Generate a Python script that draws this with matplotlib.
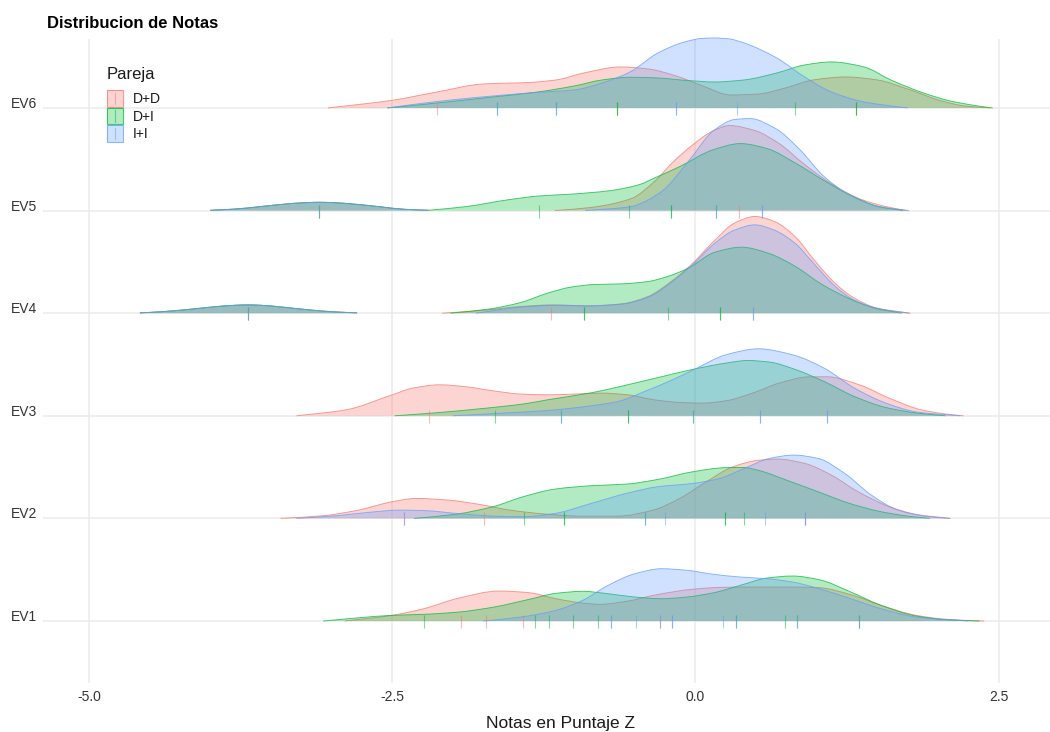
import numpy as np
import matplotlib
matplotlib.use("Agg")
import matplotlib.pyplot as plt
from matplotlib.path import Path
from matplotlib.patches import PathPatch, Rectangle
from matplotlib.lines import Line2D

plt.rcParams['font.family'] = ['Liberation Sans', 'DejaVu Sans']

# ---------------- data ----------------
rows = ['EV1', 'EV2', 'EV3', 'EV4', 'EV5', 'EV6']
groups = ['D+D', 'D+I', 'I+I']
group_colors = ['#F8766D', '#00BA38', '#619CFF']
x_ticks = [-5.0, -2.5, 0.0, 2.5]
x_tick_labels = ['-5.0', '-2.5', '0.0', '2.5']

# density heights (ridge height units)
ev6_dd_x = [-3.03, -2.5, -2.13, -1.75, -1.37, -1.15, -0.92, -0.62, -0.39, -0.16, 0.06, 0.29, 0.52, 0.74, 0.97, 1.24, 1.5, 1.77, 2.03, 2.22, 2.43]
ev6_dd_h = [0, 7.7, 16, 24, 25.5, 28, 35, 41, 39, 32, 22, 13, 14, 20, 28, 31, 28, 18, 7, 2, 0]
ev6_di_x = [-2.54, -2.13, -1.67, -1.3, -1.0, -0.77, -0.54, -0.31, -0.09, 0.16, 0.4, 0.67, 0.9, 1.12, 1.39, 1.61, 1.88, 2.1, 2.33, 2.45]
ev6_di_h = [0, 5, 11, 16, 22, 28, 30.7, 30, 27.7, 26, 28, 35, 43, 46, 41, 28, 15, 7, 2, 0]
ev6_ii_x = [-2.54, -2.13, -1.67, -1.3, -1.0, -0.77, -0.54, -0.31, -0.09, 0.05, 0.16, 0.28, 0.4, 0.67, 0.9, 1.12, 1.39, 1.61, 1.75]
ev6_ii_h = [0, 6.5, 12, 15.6, 18, 25, 36, 55, 66, 69.5, 70, 69, 65, 50, 31, 16, 6, 2, 0]

ev5_bump_x = [-4.0, -3.8, -3.6, -3.4, -3.2, -3.1, -3.0, -2.8, -2.6, -2.4, -2.2]
ev5_bump_h = [0.3, 1.5, 3.8, 6.3, 8.0, 8.3, 8.0, 6.3, 3.8, 1.3, 0.3]
ev5_dd_x = [-1.16, -0.87, -0.53, -0.33, -0.19, -0.02, 0.15, 0.28, 0.49, 0.69, 0.89, 1.13, 1.37, 1.57, 1.74]
ev5_dd_h = [0, 3, 12, 30, 48, 66, 80, 85, 80, 67, 47, 26, 11, 4, 0]
ev5_di_x = [-2.2, -1.89, -1.55, -1.28, -1.04, -0.7, -0.47, -0.33, -0.13, 0.15, 0.37, 0.59, 0.83, 1.06, 1.27, 1.51, 1.71]
ev5_di_h = [0.3, 4, 10.7, 14.7, 16.3, 20, 25.7, 33, 44, 61, 67, 62, 47, 30, 15.7, 4, 0]
ev5_ii_x = [-0.91, -0.53, -0.4, -0.26, -0.06, 0.15, 0.32, 0.45, 0.66, 0.86, 1.06, 1.27, 1.51, 1.76]
ev5_ii_h = [0, 4, 10, 21, 49, 80, 91, 92, 82, 61, 34, 15.7, 4, 0]

ev4_bump_x = [-4.58, -4.4, -4.2, -4.0, -3.8, -3.69, -3.58, -3.4, -3.2, -3.0, -2.79]
ev4_bump_h = [0.3, 1.5, 3.5, 6, 7.9, 8.3, 7.9, 6, 3.5, 1.5, 0.3]
ev4_dd_x = [-2.09, -1.71, -1.44, -1.17, -0.89, -0.61, -0.39, -0.2, -0.04, 0.16, 0.32, 0.49, 0.65, 0.82, 0.98, 1.15, 1.31, 1.5, 1.77]
ev4_dd_h = [0, 3.3, 6.7, 8.3, 7.3, 9.3, 16.7, 31.7, 48, 73, 90, 96.7, 91.7, 76.7, 53, 30, 15, 5, 0]
ev4_di_x = [-2.02, -1.71, -1.44, -1.22, -1.03, -0.83, -0.61, -0.39, -0.23, -0.06, 0.16, 0.38, 0.6, 0.82, 1.04, 1.26, 1.48, 1.7]
ev4_di_h = [0, 4, 10.7, 20, 26, 28.7, 29.3, 31.7, 36.7, 45, 61, 66, 60, 47, 29, 15, 5, 0]
ev4_ii_x = [-1.81, -1.44, -1.17, -0.89, -0.61, -0.39, -0.2, -0.04, 0.16, 0.32, 0.49, 0.65, 0.82, 0.98, 1.15, 1.31, 1.5, 1.76]
ev4_ii_h = [0, 6, 7.7, 7.3, 9, 16, 30.7, 46.7, 70, 83, 88.3, 83, 70, 49, 27, 13, 4.7, 0]

ev3_dd_x = [-3.29, -2.88, -2.5, -2.33, -2.11, -1.89, -1.67, -1.44, -1.22, -1.0, -0.78, -0.56, -0.34, -0.12, 0.06, 0.25, 0.47, 0.69, 0.94, 1.09, 1.35, 1.61, 1.86, 2.05, 2.21]
ev3_dd_h = [0, 6, 21, 27.7, 31, 29, 25, 21.7, 21, 21.7, 22.7, 21, 16, 13.3, 12.7, 15, 22.7, 32.7, 39, 39, 31, 17, 6, 2, 0]
ev3_di_x = [-2.48, -2.14, -1.78, -1.41, -1.22, -0.86, -0.49, -0.19, 0.0, 0.25, 0.43, 0.61, 0.83, 1.06, 1.31, 1.57, 1.83, 2.06]
ev3_di_h = [0, 3, 7, 12, 16, 23, 33, 41.7, 47, 52.7, 55.3, 53.7, 46, 34.3, 19.3, 8.3, 2.7, 0]
ev3_ii_x = [-2.0, -1.59, -1.22, -0.86, -0.64, -0.42, -0.19, 0.0, 0.25, 0.52, 0.8, 1.06, 1.31, 1.57, 1.83, 2.18]
ev3_ii_h = [0, 2.7, 5.3, 10, 14.3, 24.3, 36, 47, 61, 67, 61, 47.7, 27.7, 12.7, 3.7, 0]

ev2_dd_x = [-3.42, -3.07, -2.78, -2.5, -2.3, -2.04, -1.78, -1.53, -1.23, -0.94, -0.64, -0.35, -0.13, 0.09, 0.31, 0.53, 0.68, 0.9, 1.12, 1.34, 1.6, 1.82, 2.1]
ev2_dd_h = [0, 2.7, 8.3, 16.7, 20, 18.3, 14, 8.3, 4.3, 2.3, 2.3, 8.3, 20, 36.7, 51.7, 58.3, 59.3, 55, 43.3, 26.7, 11.7, 4, 0]
ev2_di_x = [-2.32, -1.97, -1.67, -1.42, -1.16, -0.86, -0.57, -0.31, -0.02, 0.24, 0.39, 0.53, 0.75, 1.01, 1.27, 1.53, 1.75, 1.93]
ev2_di_h = [0, 4.3, 11.7, 21.7, 29.3, 32.7, 34.3, 39, 46.7, 50.7, 51, 47.7, 38.3, 26.7, 15, 6.7, 2.3, 0]
ev2_ii_x = [-3.29, -2.96, -2.7, -2.44, -2.22, -1.97, -1.67, -1.42, -1.16, -0.86, -0.57, -0.31, -0.02, 0.2, 0.39, 0.61, 0.81, 1.01, 1.23, 1.45, 1.67, 1.89, 2.1]
ev2_ii_h = [0, 2.7, 6, 8.3, 7.7, 5, 2.3, 1.7, 5, 15, 25, 31.7, 35, 40, 49.3, 60, 63.3, 60, 45, 23.3, 8.3, 2.3, 0]

ev1_dd_x = [-2.89, -2.5, -2.24, -1.95, -1.62, -1.37, -1.15, -0.93, -0.79, -0.57, -0.32, -0.03, 0.22, 0.51, 0.8, 1.02, 1.28, 1.53, 1.82, 2.07, 2.38]
ev1_dd_h = [0, 5.7, 12.3, 23, 30, 28.3, 22.3, 18, 16.7, 19.7, 26.3, 31.7, 33.7, 34, 34, 33.3, 26.3, 15.7, 5.7, 1.7, 0]
ev1_di_x = [-3.07, -2.8, -2.5, -2.24, -1.95, -1.66, -1.37, -1.15, -0.93, -0.72, -0.5, -0.28, -0.07, 0.15, 0.37, 0.59, 0.8, 1.02, 1.28, 1.53, 1.82, 2.07, 2.34]
ev1_di_h = [0, 3, 5.7, 6.7, 9, 14, 21.7, 27.7, 29.7, 27.3, 24, 22.3, 24, 28.3, 35.7, 43, 45, 41.3, 29, 15.7, 5, 1.3, 0]
ev1_ii_x = [-1.75, -1.44, -1.15, -0.93, -0.72, -0.5, -0.28, -0.07, 0.15, 0.37, 0.59, 0.8, 1.02, 1.28, 1.53, 1.82, 2.25]
ev1_ii_h = [0, 4, 10.7, 20.7, 35.7, 47.3, 52.3, 50.7, 46.7, 44, 42.3, 39, 32.3, 22.3, 12.3, 4, 0]

# observed scores (rug marks)
ev6_tick_x = [-2.13, -1.64, -1.64, -1.15, -1.15, -0.65, -0.65, -0.65, -0.16, -0.16, 0.34, 0.82, 1.32, 1.32, 1.32]
ev6_tick_g = ['D+D', 'D+I', 'I+I', 'D+I', 'I+I', 'D+D', 'D+I', 'D+I', 'I+I', 'I+I', 'I+I', 'D+I', 'D+D', 'D+I', 'D+I']
ev5_tick_x = [-3.1, -3.1, -3.1, -1.29, -0.55, -0.2, -0.2, 0.17, 0.17, 0.36, 0.55, 0.55]
ev5_tick_g = ['D+D', 'D+I', 'I+I', 'D+I', 'D+I', 'D+I', 'D+I', 'D+I', 'I+I', 'D+D', 'I+I', 'I+I']
ev4_tick_x = [-3.69, -3.69, -3.69, -1.19, -0.92, -0.92, -0.23, 0.2, 0.2, 0.47, 0.47]
ev4_tick_g = ['D+D', 'D+I', 'I+I', 'D+D', 'D+I', 'D+I', 'D+I', 'D+I', 'D+I', 'I+I', 'I+I']
ev3_tick_x = [-2.2, -1.65, -1.11, -1.11, -0.56, -0.56, -0.02, -0.02, 0.53, 0.53, 1.08, 1.08]
ev3_tick_g = ['D+D', 'D+I', 'D+I', 'I+I', 'D+I', 'D+I', 'D+I', 'I+I', 'I+I', 'I+I', 'I+I', 'I+I']
ev2_tick_x = [-2.4, -2.4, -1.74, -1.41, -1.08, -1.08, -0.42, -0.42, -0.25, 0.24, 0.24, 0.40, 0.57, 0.9, 0.9, 0.9]
ev2_tick_g = ['D+D', 'I+I', 'D+D', 'D+I', 'D+I', 'D+I', 'D+I', 'I+I', 'I+I', 'D+I', 'D+I', 'D+I', 'I+I', 'D+D', 'I+I', 'I+I']
ev1_tick_x = [-2.24, -1.93, -1.73, -1.42, -1.32, -1.21, -1.01, -0.8, -0.7, -0.7, -0.49, -0.29, -0.29, -0.19, -0.19, 0.23, 0.33, 0.33, 0.74, 0.84, 0.84, 1.35, 1.35, 1.35]
ev1_tick_g = ['D+I', 'D+D', 'D+D', 'D+D', 'D+I', 'D+I', 'D+I', 'D+I', 'I+I', 'I+I', 'I+I', 'D+D', 'I+I', 'I+I', 'I+I', 'I+I', 'D+I', 'I+I', 'D+I', 'D+I', 'I+I', 'D+D', 'D+I', 'I+I']

# ---------------- assemble ----------------
curves = {
    'EV6': {'D+D': [(ev6_dd_x, ev6_dd_h)], 'D+I': [(ev6_di_x, ev6_di_h)], 'I+I': [(ev6_ii_x, ev6_ii_h)]},
    'EV5': {'D+D': [(ev5_bump_x, ev5_bump_h), (ev5_dd_x, ev5_dd_h)],
            'D+I': [(ev5_bump_x, ev5_bump_h), (ev5_di_x, ev5_di_h)],
            'I+I': [(ev5_bump_x, ev5_bump_h), (ev5_ii_x, ev5_ii_h)]},
    'EV4': {'D+D': [(ev4_bump_x, ev4_bump_h), (ev4_dd_x, ev4_dd_h)],
            'D+I': [(ev4_bump_x, ev4_bump_h), (ev4_di_x, ev4_di_h)],
            'I+I': [(ev4_bump_x, ev4_bump_h), (ev4_ii_x, ev4_ii_h)]},
    'EV3': {'D+D': [(ev3_dd_x, ev3_dd_h)], 'D+I': [(ev3_di_x, ev3_di_h)], 'I+I': [(ev3_ii_x, ev3_ii_h)]},
    'EV2': {'D+D': [(ev2_dd_x, ev2_dd_h)], 'D+I': [(ev2_di_x, ev2_di_h)], 'I+I': [(ev2_ii_x, ev2_ii_h)]},
    'EV1': {'D+D': [(ev1_dd_x, ev1_dd_h)], 'D+I': [(ev1_di_x, ev1_di_h)], 'I+I': [(ev1_ii_x, ev1_ii_h)]},
}
rug = {
    'EV6': (ev6_tick_x, ev6_tick_g), 'EV5': (ev5_tick_x, ev5_tick_g), 'EV4': (ev4_tick_x, ev4_tick_g),
    'EV3': (ev3_tick_x, ev3_tick_g), 'EV2': (ev2_tick_x, ev2_tick_g), 'EV1': (ev1_tick_x, ev1_tick_g),
}
cmap = dict(zip(groups, group_colors))

HEIGHT_SCALE = 1 / 102.6   # ridge height units per row spacing
FILL_ALPHA = 0.3


def pchip_slopes(x, y):
    x = np.asarray(x, float)
    y = np.asarray(y, float)
    h = np.diff(x)
    d = np.diff(y) / h
    m = np.zeros_like(y)
    for k in range(1, len(y) - 1):
        if d[k - 1] * d[k] <= 0:
            m[k] = 0.0
        else:
            w1 = 2 * h[k] + h[k - 1]
            w2 = h[k] + 2 * h[k - 1]
            m[k] = (w1 + w2) / (w1 / d[k - 1] + w2 / d[k])
    m[0] = d[0]
    m[-1] = d[-1]
    return m


def smooth_vertices(x, y):
    x = np.asarray(x, float)
    y = np.asarray(y, float)
    m = pchip_slopes(x, y)
    verts = [(x[0], y[0])]
    codes = [Path.MOVETO]
    for i in range(len(x) - 1):
        dx = x[i + 1] - x[i]
        verts += [(x[i] + dx / 3, y[i] + m[i] * dx / 3),
                  (x[i + 1] - dx / 3, y[i + 1] - m[i + 1] * dx / 3),
                  (x[i + 1], y[i + 1])]
        codes += [Path.CURVE4] * 3
    return verts, codes


W, H = 1050, 732
fig = plt.figure(figsize=(W / 100, H / 100), dpi=100)
ax_left, ax_right, ax_top, ax_bottom = 43, 1077, 39, 683
ax = fig.add_axes([ax_left / W, 1 - ax_bottom / H, (ax_right - ax_left) / W, (ax_bottom - ax_top) / H])
ax.set_xlim(-5.379, 3.145)
ax.set_ylim(-0.604, 5.672)
for s in ax.spines.values():
    s.set_visible(False)

grid_c = '#EBEBEB'
for xv in x_ticks:
    ax.axvline(xv, color=grid_c, lw=1.1, zorder=0)
for i in range(len(rows)):
    ax.axhline(i, color=grid_c, lw=1.1, zorder=0)

z = 1
for row in reversed(rows):
    r = rows.index(row)
    for g in groups:
        col = cmap[g]
        for xs, hs in curves[row][g]:
            ys = [r + v * HEIGHT_SCALE for v in hs]
            verts, codes = smooth_vertices(xs, ys)
            fverts = [(xs[0], r)] + verts + [(xs[-1], r), (xs[0], r)]
            fcodes = [Path.MOVETO, Path.LINETO] + codes[1:] + [Path.LINETO, Path.CLOSEPOLY]
            ax.add_patch(PathPatch(Path(fverts, fcodes), facecolor=col, alpha=FILL_ALPHA,
                                   edgecolor='none', zorder=z, clip_on=False))
            ax.add_patch(PathPatch(Path(verts, codes), facecolor='none', edgecolor=col,
                                   lw=0.65, alpha=0.75, zorder=z + 0.1, clip_on=False))
            z += 0.2
    tx, tg = rug[row]
    for xv, g in zip(tx, tg):
        ax.vlines(xv, r - 0.068, r + 0.058, colors=cmap[g], alpha=0.5, lw=0.8, zorder=z)
    z += 0.2

ax.set_xticks(x_ticks)
ax.set_xticklabels(x_tick_labels)
ax.set_yticks(range(len(rows)))
ax.set_yticklabels(rows)
ax.tick_params(axis='both', length=0, labelsize=10, labelcolor='#333333')
ax.tick_params(axis='x', pad=5)
ax.tick_params(axis='y', pad=4)
for lab in ax.get_yticklabels():
    lab.set_verticalalignment('baseline')

fig.text(47 / W, 1 - 28.3 / H, 'Distribucion de Notas', fontsize=12, fontweight='bold',
         ha='left', va='baseline', color='black')
fig.text(((ax_left + ax_right) / 2) / W, 1 - 728 / H, 'Notas en Puntaje Z', fontsize=12.5,
         ha='center', va='baseline', color='#1A1A1A')

# legend
fig.text(107 / W, 1 - 79 / H, 'Pareja', fontsize=12, ha='left', va='baseline', color='#1A1A1A')
key_top = 89.5
key_h = 17.6
for i, g in enumerate(groups):
    col = cmap[g]
    y0 = key_top + i * key_h
    fig.add_artist(Rectangle((106.5 / W, 1 - (y0 + key_h - 0.5) / H), 16.5 / W, (key_h - 1) / H,
                             transform=fig.transFigure, facecolor=col, alpha=FILL_ALPHA,
                             edgecolor='none'))
    fig.add_artist(Rectangle((106.5 / W, 1 - (y0 + key_h - 0.5) / H), 16.5 / W, (key_h - 1) / H,
                             transform=fig.transFigure, facecolor='none', edgecolor=col,
                             lw=0.8, alpha=0.75))
    fig.add_artist(Line2D([114.8 / W, 114.8 / W], [1 - (y0 + 3) / H, 1 - (y0 + key_h - 3) / H],
                          transform=fig.transFigure, color=col, alpha=0.5, lw=0.8))
    fig.text(133 / W, 1 - (y0 + key_h / 2 + 5) / H, g, fontsize=10, ha='left', va='baseline',
             color='#1A1A1A')

fig.savefig('out.png', dpi=100)
